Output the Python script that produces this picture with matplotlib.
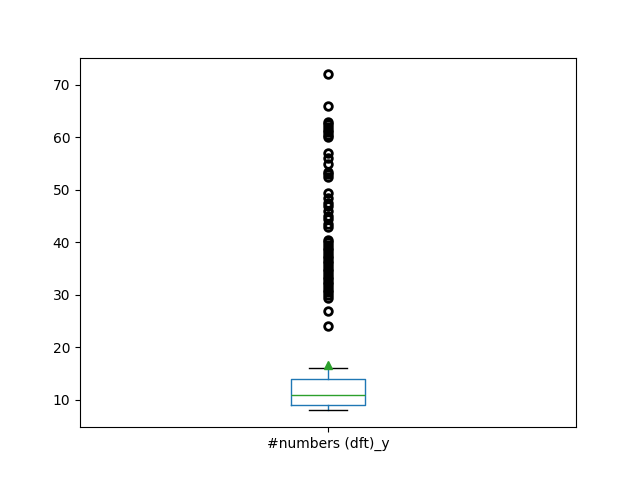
import matplotlib
matplotlib.use('Agg')
import matplotlib.pyplot as plt

# box statistics
label = '#numbers (dft)_y'
whisker_low = 8
q1 = 9
median = 11
q3 = 14
whisker_high = 16
mean = 16.6

# outlier values (top to bottom)
outliers = [72, 66,
            63, 62.5, 62, 61.5, 61, 60.5, 60,
            57, 56, 55, 53.5, 53, 52.5,
            49.5, 48.5, 47.5, 47, 46, 45, 44.5, 43.5, 43,
            40.5, 40, 39.5, 39, 38.5, 38, 37.5, 37, 36.5, 36, 35.5, 35, 34.5, 34,
            33.5, 33, 32.5, 32, 31.5, 31, 30.5, 30, 29.5,
            27, 24]

stats = [{
    'label': label,
    'whislo': whisker_low,
    'q1': q1,
    'med': median,
    'q3': q3,
    'whishi': whisker_high,
    'mean': mean,
    'fliers': outliers,
}]

fig, ax = plt.subplots(figsize=(6.4, 4.8), dpi=100)

ax.bxp(stats, positions=[1], widths=0.15, showmeans=True,
       boxprops=dict(color='#1f77b4'),
       whiskerprops=dict(color='#1f77b4'),
       medianprops=dict(color='#2ca02c'),
       capprops=dict(color='black'),
       flierprops=dict(marker='o', markersize=5.5, markeredgewidth=2,
                       markeredgecolor='black', markerfacecolor='none'),
       meanprops=dict(marker='^', markerfacecolor='#2ca02c', markeredgecolor='#2ca02c'))

ax.set_xlim(0.5, 1.5)
ax.set_ylim(4.8, 75.2)

fig.savefig('out.png', dpi=100)
